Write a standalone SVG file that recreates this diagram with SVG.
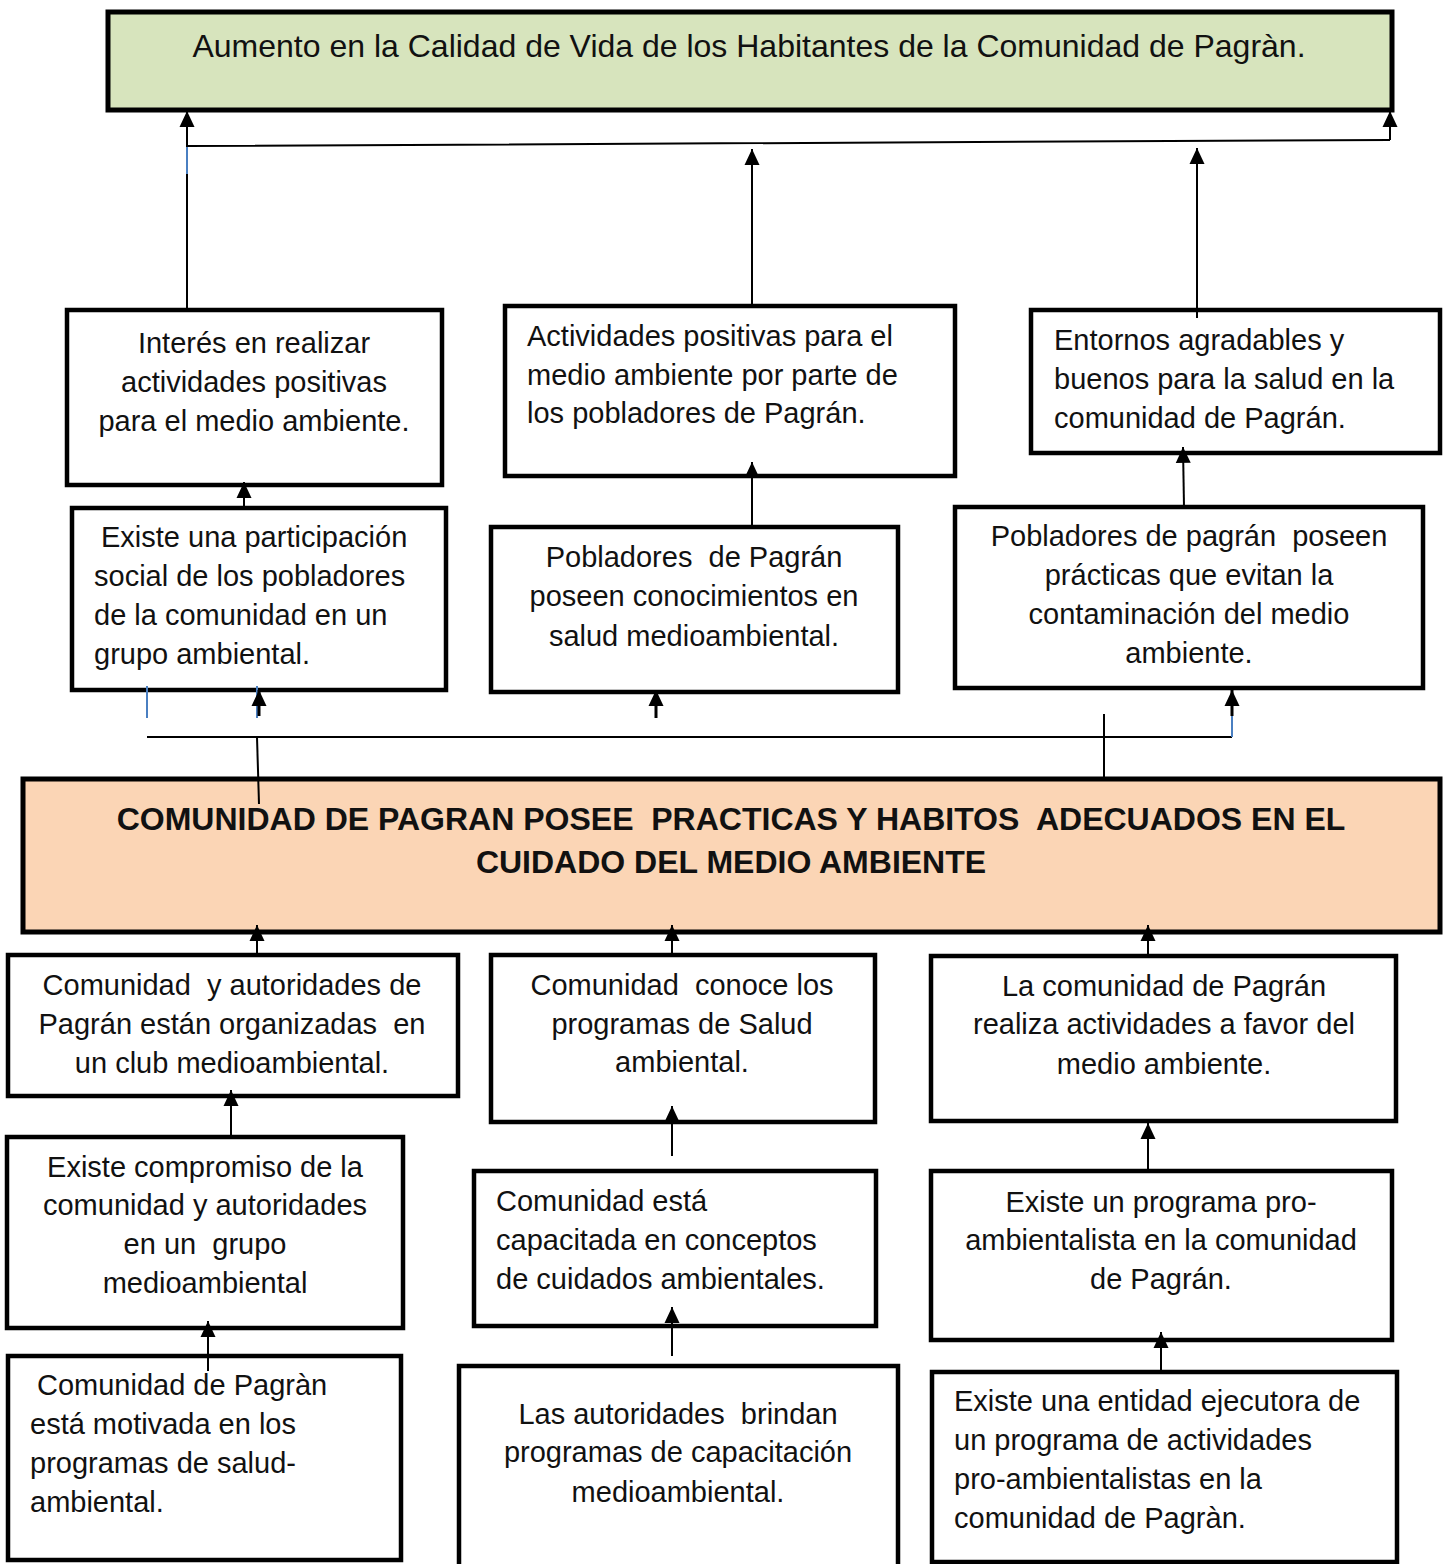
<svg xmlns="http://www.w3.org/2000/svg" width="1446" height="1564" viewBox="0 0 1446 1564">
<style>
.box{fill:#fff;stroke:#000;stroke-width:4.5}
.t{font-family:"Liberation Sans",Arial,sans-serif;font-size:29px;fill:#111;white-space:pre}
.c{text-anchor:middle}
.ln{stroke:#000;stroke-width:2;fill:none}
.bl{stroke:#4a7fc1;stroke-width:2;fill:none}
</style>
<defs>
<marker id="ah" markerUnits="userSpaceOnUse" markerWidth="18" markerHeight="18" viewBox="0 0 18 18" refX="17" refY="9" orient="auto">
<path d="M1,1.5 L17,9 L1,16.5 Z" fill="#000"/>
</marker>
</defs>
<g id="goal">
<rect x="108" y="12" width="1284" height="98" fill="#d7e4bd" stroke="#000" stroke-width="5"/>
<text class="t c" x="749" y="57" style="font-size:32px">Aumento en la Calidad de Vida de los Habitantes de la Comunidad de Pagràn.</text>
</g>
<g id="central">
<rect x="23" y="779" width="1417" height="153" fill="#fbd5b5" stroke="#000" stroke-width="5"/>
<text class="t c" x="731" y="830" style="font-size:32px;font-weight:bold">COMUNIDAD DE PAGRAN POSEE  PRACTICAS Y HABITOS  ADECUADOS EN EL</text>
<text class="t c" x="731" y="873" style="font-size:32px;font-weight:bold">CUIDADO DEL MEDIO AMBIENTE</text>
</g>
<g id="a1"><rect class="box" x="67" y="310" width="375" height="175"/>
<text class="t c" x="254" y="353">Interés en realizar</text>
<text class="t c" x="254" y="392">actividades positivas</text>
<text class="t c" x="254" y="431">para el medio ambiente.</text></g>
<g id="a2"><rect class="box" x="505" y="306" width="450" height="170"/>
<text class="t" x="527" y="346">Actividades positivas para el</text>
<text class="t" x="527" y="385">medio ambiente por parte de</text>
<text class="t" x="527" y="423">los pobladores de Pagrán.</text></g>
<g id="a3"><rect class="box" x="1031" y="310" width="409" height="143"/>
<text class="t" x="1054" y="350">Entornos agradables y</text>
<text class="t" x="1054" y="389">buenos para la salud en la</text>
<text class="t" x="1054" y="428">comunidad de Pagrán.</text></g>
<g id="b1"><rect class="box" x="72" y="508" width="374" height="182"/>
<text class="t" x="101" y="547">Existe una participación</text>
<text class="t" x="94" y="586">social de los pobladores</text>
<text class="t" x="94" y="625">de la comunidad en un</text>
<text class="t" x="94" y="664">grupo ambiental.</text></g>
<g id="b2"><rect class="box" x="491" y="527" width="407" height="165"/>
<text class="t c" x="694" y="567">Pobladores  de Pagrán</text>
<text class="t c" x="694" y="606">poseen conocimientos en</text>
<text class="t c" x="694" y="646">salud medioambiental.</text></g>
<g id="b3"><rect class="box" x="955" y="507" width="468" height="181"/>
<text class="t c" x="1189" y="546">Pobladores de pagrán  poseen</text>
<text class="t c" x="1189" y="585">prácticas que evitan la</text>
<text class="t c" x="1189" y="624">contaminación del medio</text>
<text class="t c" x="1189" y="663">ambiente.</text></g>
<g id="c1"><rect class="box" x="8" y="955" width="450" height="141"/>
<text class="t c" x="232" y="995">Comunidad  y autoridades de</text>
<text class="t c" x="232" y="1034">Pagrán están organizadas  en</text>
<text class="t c" x="232" y="1073">un club medioambiental.</text></g>
<g id="c2"><rect class="box" x="491" y="955" width="384" height="167"/>
<text class="t c" x="682" y="995">Comunidad  conoce los</text>
<text class="t c" x="682" y="1034">programas de Salud</text>
<text class="t c" x="682" y="1072">ambiental.</text></g>
<g id="c3"><rect class="box" x="931" y="956" width="465" height="165"/>
<text class="t c" x="1164" y="996">La comunidad de Pagrán</text>
<text class="t c" x="1164" y="1034">realiza actividades a favor del</text>
<text class="t c" x="1164" y="1074">medio ambiente.</text></g>
<g id="d1"><rect class="box" x="7" y="1137" width="396" height="191"/>
<text class="t c" x="205" y="1177">Existe compromiso de la</text>
<text class="t c" x="205" y="1215">comunidad y autoridades</text>
<text class="t c" x="205" y="1254">en un  grupo</text>
<text class="t c" x="205" y="1293">medioambiental</text></g>
<g id="d2"><rect class="box" x="474" y="1171" width="402" height="155"/>
<text class="t" x="496" y="1211">Comunidad está</text>
<text class="t" x="496" y="1250">capacitada en conceptos</text>
<text class="t" x="496" y="1289">de cuidados ambientales.</text></g>
<g id="d3"><rect class="box" x="931" y="1171" width="461" height="169"/>
<text class="t c" x="1161" y="1212">Existe un programa pro-</text>
<text class="t c" x="1161" y="1250">ambientalista en la comunidad</text>
<text class="t c" x="1161" y="1289">de Pagrán.</text></g>
<g id="e1"><rect class="box" x="8" y="1356" width="393" height="204"/>
<text class="t" x="37" y="1395">Comunidad de Pagràn</text>
<text class="t" x="30" y="1434">está motivada en los</text>
<text class="t" x="30" y="1473">programas de salud-</text>
<text class="t" x="30" y="1512">ambiental.</text></g>
<g id="e2"><rect class="box" x="459" y="1366" width="439" height="210"/>
<text class="t c" x="678" y="1424">Las autoridades  brindan</text>
<text class="t c" x="678" y="1462">programas de capacitación</text>
<text class="t c" x="678" y="1502">medioambiental.</text></g>
<g id="e3"><rect class="box" x="932" y="1372" width="465" height="190"/>
<text class="t" x="954" y="1411">Existe una entidad ejecutora de</text>
<text class="t" x="954" y="1450">un programa de actividades</text>
<text class="t" x="954" y="1489">pro-ambientalistas en la</text>
<text class="t" x="954" y="1528">comunidad de Pagràn.</text></g>
<g id="connectors">
<polyline class="ln" points="187,312 187,146 1390,140"/>
<line class="bl" x1="187" y1="147" x2="187" y2="174"/>
<line class="ln" x1="187" y1="146" x2="187" y2="111" marker-end="url(#ah)"/>
<line class="ln" x1="1390" y1="140" x2="1390" y2="111" marker-end="url(#ah)"/>
<line class="ln" x1="752" y1="306" x2="752" y2="149" marker-end="url(#ah)"/>
<line class="ln" x1="1197" y1="318" x2="1197" y2="148" marker-end="url(#ah)"/>
<line class="ln" x1="244" y1="508" x2="244" y2="482" marker-end="url(#ah)"/>
<line class="ln" x1="752" y1="527" x2="752" y2="462" marker-end="url(#ah)"/>
<line class="ln" x1="1184" y1="507" x2="1183" y2="447" marker-end="url(#ah)"/>
<line class="ln" x1="147" y1="737" x2="1232" y2="737"/>
<line class="bl" x1="147" y1="686" x2="147" y2="718"/>
<line class="bl" x1="257" y1="686" x2="257" y2="718"/>
<line class="ln" x1="259" y1="716" x2="259" y2="690" marker-end="url(#ah)" style="stroke-width:3"/>
<line class="ln" x1="257" y1="737" x2="259" y2="804"/>
<line class="ln" x1="656" y1="718" x2="656" y2="690" marker-end="url(#ah)" style="stroke-width:3"/>
<line class="ln" x1="1104" y1="714" x2="1104" y2="777"/>
<line class="bl" x1="1232" y1="737" x2="1232" y2="716"/>
<line class="ln" x1="1232" y1="716" x2="1232" y2="690" marker-end="url(#ah)" style="stroke-width:3"/>
<line class="ln" x1="257" y1="955" x2="257" y2="925" marker-end="url(#ah)"/>
<line class="ln" x1="672" y1="955" x2="672" y2="925" marker-end="url(#ah)"/>
<line class="ln" x1="1148" y1="956" x2="1148" y2="925" marker-end="url(#ah)"/>
<line class="ln" x1="231" y1="1137" x2="231" y2="1090" marker-end="url(#ah)"/>
<line class="ln" x1="672" y1="1156" x2="672" y2="1106" marker-end="url(#ah)"/>
<line class="ln" x1="1148" y1="1170" x2="1148" y2="1123" marker-end="url(#ah)"/>
<line class="ln" x1="208" y1="1371" x2="208" y2="1321" marker-end="url(#ah)"/>
<line class="ln" x1="672" y1="1356" x2="672" y2="1307" marker-end="url(#ah)"/>
<line class="ln" x1="1161" y1="1372" x2="1161" y2="1332" marker-end="url(#ah)"/>
</g>
</svg>
